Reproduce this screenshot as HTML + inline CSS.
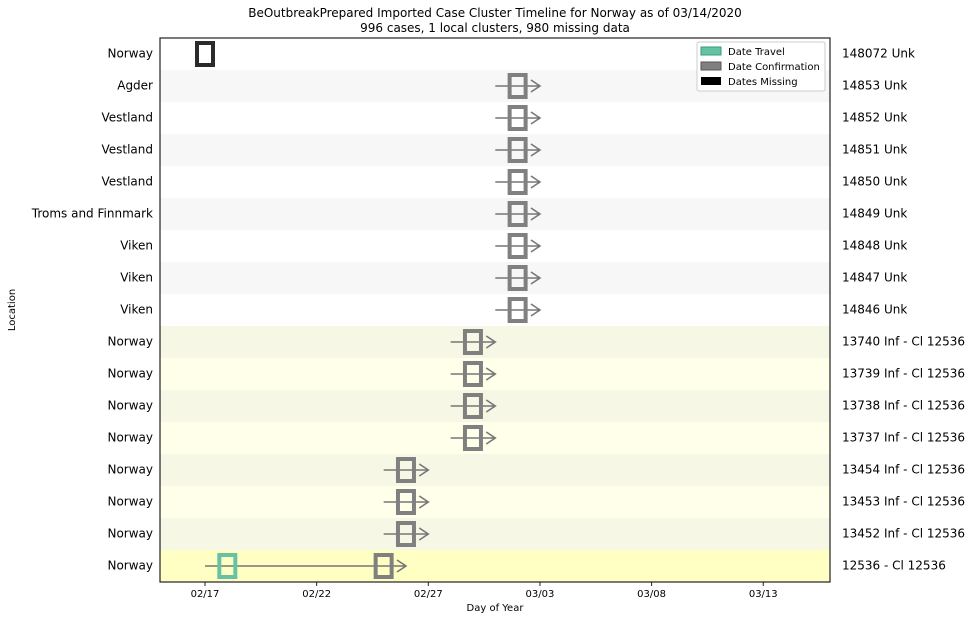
<!DOCTYPE html>
<html><head><meta charset="utf-8"><style>
body{margin:0;background:#fff;font-family:"DejaVu Sans",sans-serif}
</style></head><body>
<svg id="chart" width="975" height="620" xmlns="http://www.w3.org/2000/svg" font-family="DejaVu Sans, sans-serif">
<text x="495" y="17" text-anchor="middle" font-size="12">BeOutbreakPrepared Imported Case Cluster Timeline for Norway as of 03/14/2020</text>
<text x="495" y="32" text-anchor="middle" font-size="12">996 cases, 1 local clusters, 980 missing data</text>
<g id="rows"></g>
<g id="xaxis"></g>
<g id="marks"></g>
<rect x="160" y="38" width="670" height="544" fill="none" stroke="#222" stroke-width="1.2"/>
<text x="495" y="611" text-anchor="middle" font-size="10">Day of Year</text>
<text x="15" y="310" text-anchor="middle" font-size="10" transform="rotate(-90 15 310)">Location</text>
<g>
<rect x="697" y="42" width="128" height="49" fill="#fff" stroke="#ccc" rx="2"/>
<rect x="701" y="47" width="20" height="8" fill="#66c2a5" stroke="#3a9a7a"/>
<text x="728" y="55" font-size="10">Date Travel</text>
<rect x="701" y="62" width="20" height="8" fill="#808080" stroke="#555"/>
<text x="728" y="70" font-size="10">Date Confirmation</text>
<rect x="701" y="77" width="20" height="8" fill="#000"/>
<text x="728" y="85" font-size="10">Dates Missing</text>
</g>
</svg>
<script>
const locations=["Norway","Agder","Vestland","Vestland","Vestland","Troms and Finnmark","Viken","Viken","Viken","Norway","Norway","Norway","Norway","Norway","Norway","Norway","Norway"];
const caseLabels=["148072 Unk","14853 Unk","14852 Unk","14851 Unk","14850 Unk","14849 Unk","14848 Unk","14847 Unk","14846 Unk","13740 Inf - Cl 12536","13739 Inf - Cl 12536","13738 Inf - Cl 12536","13737 Inf - Cl 12536","13454 Inf - Cl 12536","13453 Inf - Cl 12536","13452 Inf - Cl 12536","12536 - Cl 12536"];
// day offsets from 02/17; null = none
const confirmDay=[0,14,14,14,14,14,14,14,14,12,12,12,12,9,9,9,8];
const travelDay=[null,null,null,null,null,null,null,null,null,null,null,null,null,null,null,null,1];
const lineStart=[null,13,13,13,13,13,13,13,13,11,11,11,11,8,8,8,0];
const lineEnd=[null,15,15,15,15,15,15,15,15,13,13,13,13,10,10,10,9];
const missing=[true,false,false,false,false,false,false,false,false,false,false,false,false,false,false,false,false];
const rowKind=[0,1,0,1,0,1,0,1,0,2,3,2,3,2,3,2,4];
const tickDays=[0,5,10,15,20,25];
const tickLabels=["02/17","02/22","02/27","03/03","03/08","03/13"];

const NS="http://www.w3.org/2000/svg";
const xScale=d=>205+d*22.33;
const rowH=32, plotTop=38;
const yScale=i=>plotTop+i*rowH+rowH/2;
const fills=["#ffffff","#f7f7f7","#f7f7e6","#ffffea","#ffffc4"];
function mk(tag,attrs,parent){const e=document.createElementNS(NS,tag);for(const k in attrs)e.setAttribute(k,attrs[k]);document.getElementById(parent).appendChild(e);return e;}
locations.forEach((loc,i)=>{
  const r=mk('rect',{x:160,y:plotTop+i*rowH,width:670,height:rowH,fill:fills[rowKind[i]]},'rows');
  
  
  const t=mk('text',{x:153,y:yScale(i)+3.5,'text-anchor':'end','font-size':12},'rows');t.textContent=loc;
  
  
  const c=mk('text',{x:842,y:yScale(i)+3.5,'font-size':12},'rows');c.textContent=caseLabels[i];
  
  
  if(lineStart[i]!==null){
    const x1=xScale(lineStart[i]),x2=xScale(lineEnd[i]),yy=yScale(i);
    const l=mk('path',{d:`M${x1} ${yy}H${x2}M${x2-9} ${yy-6}L${x2} ${yy}L${x2-9} ${yy+6}`,stroke:'#777',fill:'none','stroke-width':1.6},'marks');
    
    
  }
  if(travelDay[i]!==null){
    const b=mk('rect',{x:xScale(travelDay[i])-8,y:yScale(i)-11,width:16,height:22,fill:'none',stroke:'#66c2a5','stroke-width':4},'marks');
    
    
  }
  const b=mk('rect',{x:xScale(confirmDay[i])-8,y:yScale(i)-11,width:16,height:22,fill:'none',stroke:missing[i]?'#2b2b2b':'#808080','stroke-width':4},'marks');
  
  
});
tickDays.forEach((d,i)=>{
  const l=mk('line',{x1:xScale(d),x2:xScale(d),y1:582,y2:586,stroke:'#222'},'xaxis');
  
  
  const t=mk('text',{x:xScale(d),y:597,'text-anchor':'middle','font-size':10},'xaxis');t.textContent=tickLabels[i];
  
  
});
</script>
</body></html>
